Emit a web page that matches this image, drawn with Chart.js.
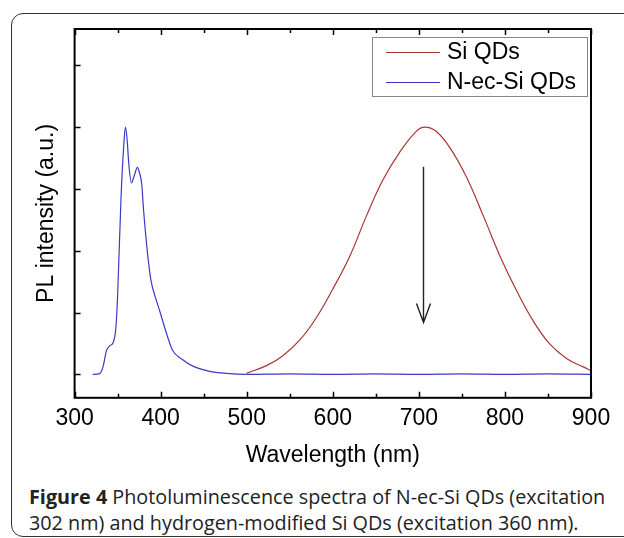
<!DOCTYPE html>
<html lang="en">
<head>
  <meta charset="UTF-8">
  <title>Figure 4 - PL spectra</title>
  <script src="https://cdn.jsdelivr.net/npm/chart.js"></script>
  <style>
    html, body {
      margin: 0;
      padding: 0;
      background: #fff;
      width: 624px;
      height: 538px;
      overflow: hidden;
    }
    .frame {
      position: absolute;
      left: 11px;
      top: 13px;
      width: 660px;
      height: 522px;
      border: 1.5px solid #333;
      border-radius: 12px;
    }
    .chart-box {
      position: absolute;
      left: 0;
      top: 0;
      width: 624px;
      height: 480px;
    }
    .caption {
      position: absolute;
      left: 29px;
      top: 484px;
      width: 595px;
      font-family: 'Open Sans', sans-serif;
      font-size: 19.8px;
      line-height: 26px;
      color: #222;
      white-space: nowrap;
    }
    .caption b { font-weight: 700; }
  </style>
</head>
<body>

<div class="frame"></div>
<div class="chart-box">
  <canvas id="plChart"></canvas>
</div>
<div class="caption">
  <b>Figure 4</b> Photoluminescence spectra of N-ec-Si QDs (excitation<br>
  302 nm) and hydrogen-modified Si QDs (excitation 360 nm).
</div>

<script>
  // Si QDs (red) - wavelength (nm) and PL intensity (a.u.)
  var siWavelength = [500, 523, 542, 562, 581, 600, 620, 639, 658, 678, 697, 707, 720, 736, 755, 775, 794, 814, 833, 852, 872, 891, 900];
  var siIntensity  = [0.005, 0.035, 0.075, 0.14, 0.23, 0.345, 0.48, 0.64, 0.785, 0.90, 0.983, 1.0, 0.983, 0.917, 0.80, 0.64, 0.48, 0.335, 0.215, 0.123, 0.063, 0.03, 0.015];

  // N-ec-Si QDs (blue)
  var nWavelength = [321, 329, 333, 337, 341, 345, 348, 350, 354, 357, 359, 361, 363, 366, 369, 373, 375, 378, 380, 383, 386, 389, 394, 399, 407, 414, 424, 438, 457, 476, 500, 550, 600, 650, 700, 750, 800, 850, 900];
  var nIntensity  = [0.0, 0.003, 0.03, 0.096, 0.116, 0.13, 0.19, 0.32, 0.72, 0.92, 1.0, 0.95, 0.85, 0.774, 0.80, 0.837, 0.82, 0.77, 0.67, 0.55, 0.45, 0.375, 0.31, 0.255, 0.163, 0.096, 0.063, 0.032, 0.012, 0.004, 0.0, 0.002, 0.0, 0.002, 0.0, 0.002, 0.0, 0.002, 0.0];

  var xTicks = [300, 400, 500, 600, 700, 800, 900];
  var yTickValues = [0, 0.25, 0.5, 0.75, 1, 1.25];
  // arrow from (705 nm, 0.84) down to (705 nm, 0.21)
  var arrowX = 705;
  var arrowFrom = 0.84;
  var arrowTo = 0.21;

  function toPoints(xs, ys) {
    return xs.map(function (x, i) { return { x: x, y: ys[i] }; });
  }

  var FONT = "'Liberation Sans', Arial, sans-serif";

  // frame, inward ticks, arrow and the boxed legend
  var decorPlugin = {
    id: 'decor',
    afterDraw: function (chart) {
      var ctx = chart.ctx;
      var a = chart.chartArea;
      var xs = chart.scales.x;
      var ys = chart.scales.y;
      ctx.save();

      // axis box
      ctx.strokeStyle = '#000';
      ctx.lineWidth = 2;
      ctx.strokeRect(a.left, a.top, a.right - a.left, a.bottom - a.top);

      // x ticks, bottom and top, pointing inward
      ctx.lineWidth = 1.5;
      for (var v = 300; v <= 900; v += 50) {
        var px = Math.round(xs.getPixelForValue(v)) + 0.5;
        var len = (v % 100 === 0) ? 6 : 4;
        ctx.beginPath();
        ctx.moveTo(px, a.bottom);
        ctx.lineTo(px, a.bottom - len);
        ctx.moveTo(px, a.top);
        ctx.lineTo(px, a.top + len);
        ctx.stroke();
      }
      // y ticks on the left
      yTickValues.forEach(function (t) {
        var py = Math.round(ys.getPixelForValue(t)) + 0.5;
        ctx.beginPath();
        ctx.moveTo(a.left, py);
        ctx.lineTo(a.left + 6, py);
        ctx.stroke();
      });

      // arrow
      var ax = Math.round(xs.getPixelForValue(arrowX)) + 0.5;
      var ay1 = ys.getPixelForValue(arrowFrom);
      var ay2 = ys.getPixelForValue(arrowTo);
      ctx.strokeStyle = '#222';
      ctx.lineWidth = 1.4;
      ctx.beginPath();
      ctx.moveTo(ax, ay1);
      ctx.lineTo(ax, ay2);
      ctx.moveTo(ax - 7, ay2 - 19);
      ctx.lineTo(ax, ay2);
      ctx.lineTo(ax + 7, ay2 - 19);
      ctx.stroke();

      // legend
      var lx = 372, ly = 37, lw = 215, lh = 59;
      ctx.strokeStyle = '#888';
      ctx.lineWidth = 1;
      ctx.strokeRect(lx + 0.5, ly + 0.5, lw, lh);
      ctx.font = '23px ' + FONT;
      ctx.textBaseline = 'middle';
      ctx.fillStyle = '#000';
      chart.data.datasets.forEach(function (ds, i) {
        var yy = ly + 15 + i * 30;
        ctx.strokeStyle = ds.borderColor;
        ctx.lineWidth = 1.2;
        ctx.beginPath();
        ctx.moveTo(lx + 14, yy + 0.5);
        ctx.lineTo(lx + 68, yy + 0.5);
        ctx.stroke();
        ctx.fillText(ds.label, lx + 75, yy + 1);
      });
      ctx.restore();
    }
  };

  var ctx = document.getElementById('plChart').getContext('2d');
  var plChart = new Chart(ctx, {
    type: 'line',
    data: {
      datasets: [{
        label: 'Si QDs',
        data: toPoints(siWavelength, siIntensity),
        borderColor: 'rgb(172, 52, 52)',
        borderWidth: 1.2,
        pointRadius: 0,
        tension: 0.4,
        fill: false
      }, {
        label: 'N-ec-Si QDs',
        data: toPoints(nWavelength, nIntensity),
        borderColor: 'rgb(58, 58, 200)',
        borderWidth: 1.2,
        pointRadius: 0,
        cubicInterpolationMode: 'monotone',
        fill: false
      }]
    },
    options: {
      responsive: true,
      maintainAspectRatio: false,
      animation: false,
      events: [],
      layout: {
        padding: { top: 29, right: 33, left: 12, bottom: 7 }
      },
      plugins: {
        legend: { display: false },
        tooltip: { enabled: false }
      },
      scales: {
        x: {
          type: 'linear',
          min: 300,
          max: 900,
          border: { display: false },
          grid: { display: false, drawTicks: false, tickLength: 0 },
          ticks: {
            stepSize: 50,
            autoSkip: false,
            maxRotation: 0,
            padding: 7,
            color: '#000',
            font: { family: FONT, size: 23 },
            callback: function (v) { return xTicks.indexOf(v) >= 0 ? String(v) : ''; }
          },
          title: {
            display: true,
            text: 'Wavelength (nm)',
            color: '#000',
            font: { family: FONT, size: 23 },
            padding: { top: 2, bottom: 4 }
          }
        },
        y: {
          min: -0.095,
          max: 1.397,
          border: { display: false },
          grid: { display: false, drawTicks: false, tickLength: 0 },
          ticks: { display: false },
          title: {
            display: true,
            text: 'PL intensity (a.u.)',
            color: '#000',
            font: { family: FONT, size: 23 },
            padding: { top: 21, bottom: 14 }
          }
        }
      }
    },
    plugins: [decorPlugin]
  });
</script>

</body>
</html>
